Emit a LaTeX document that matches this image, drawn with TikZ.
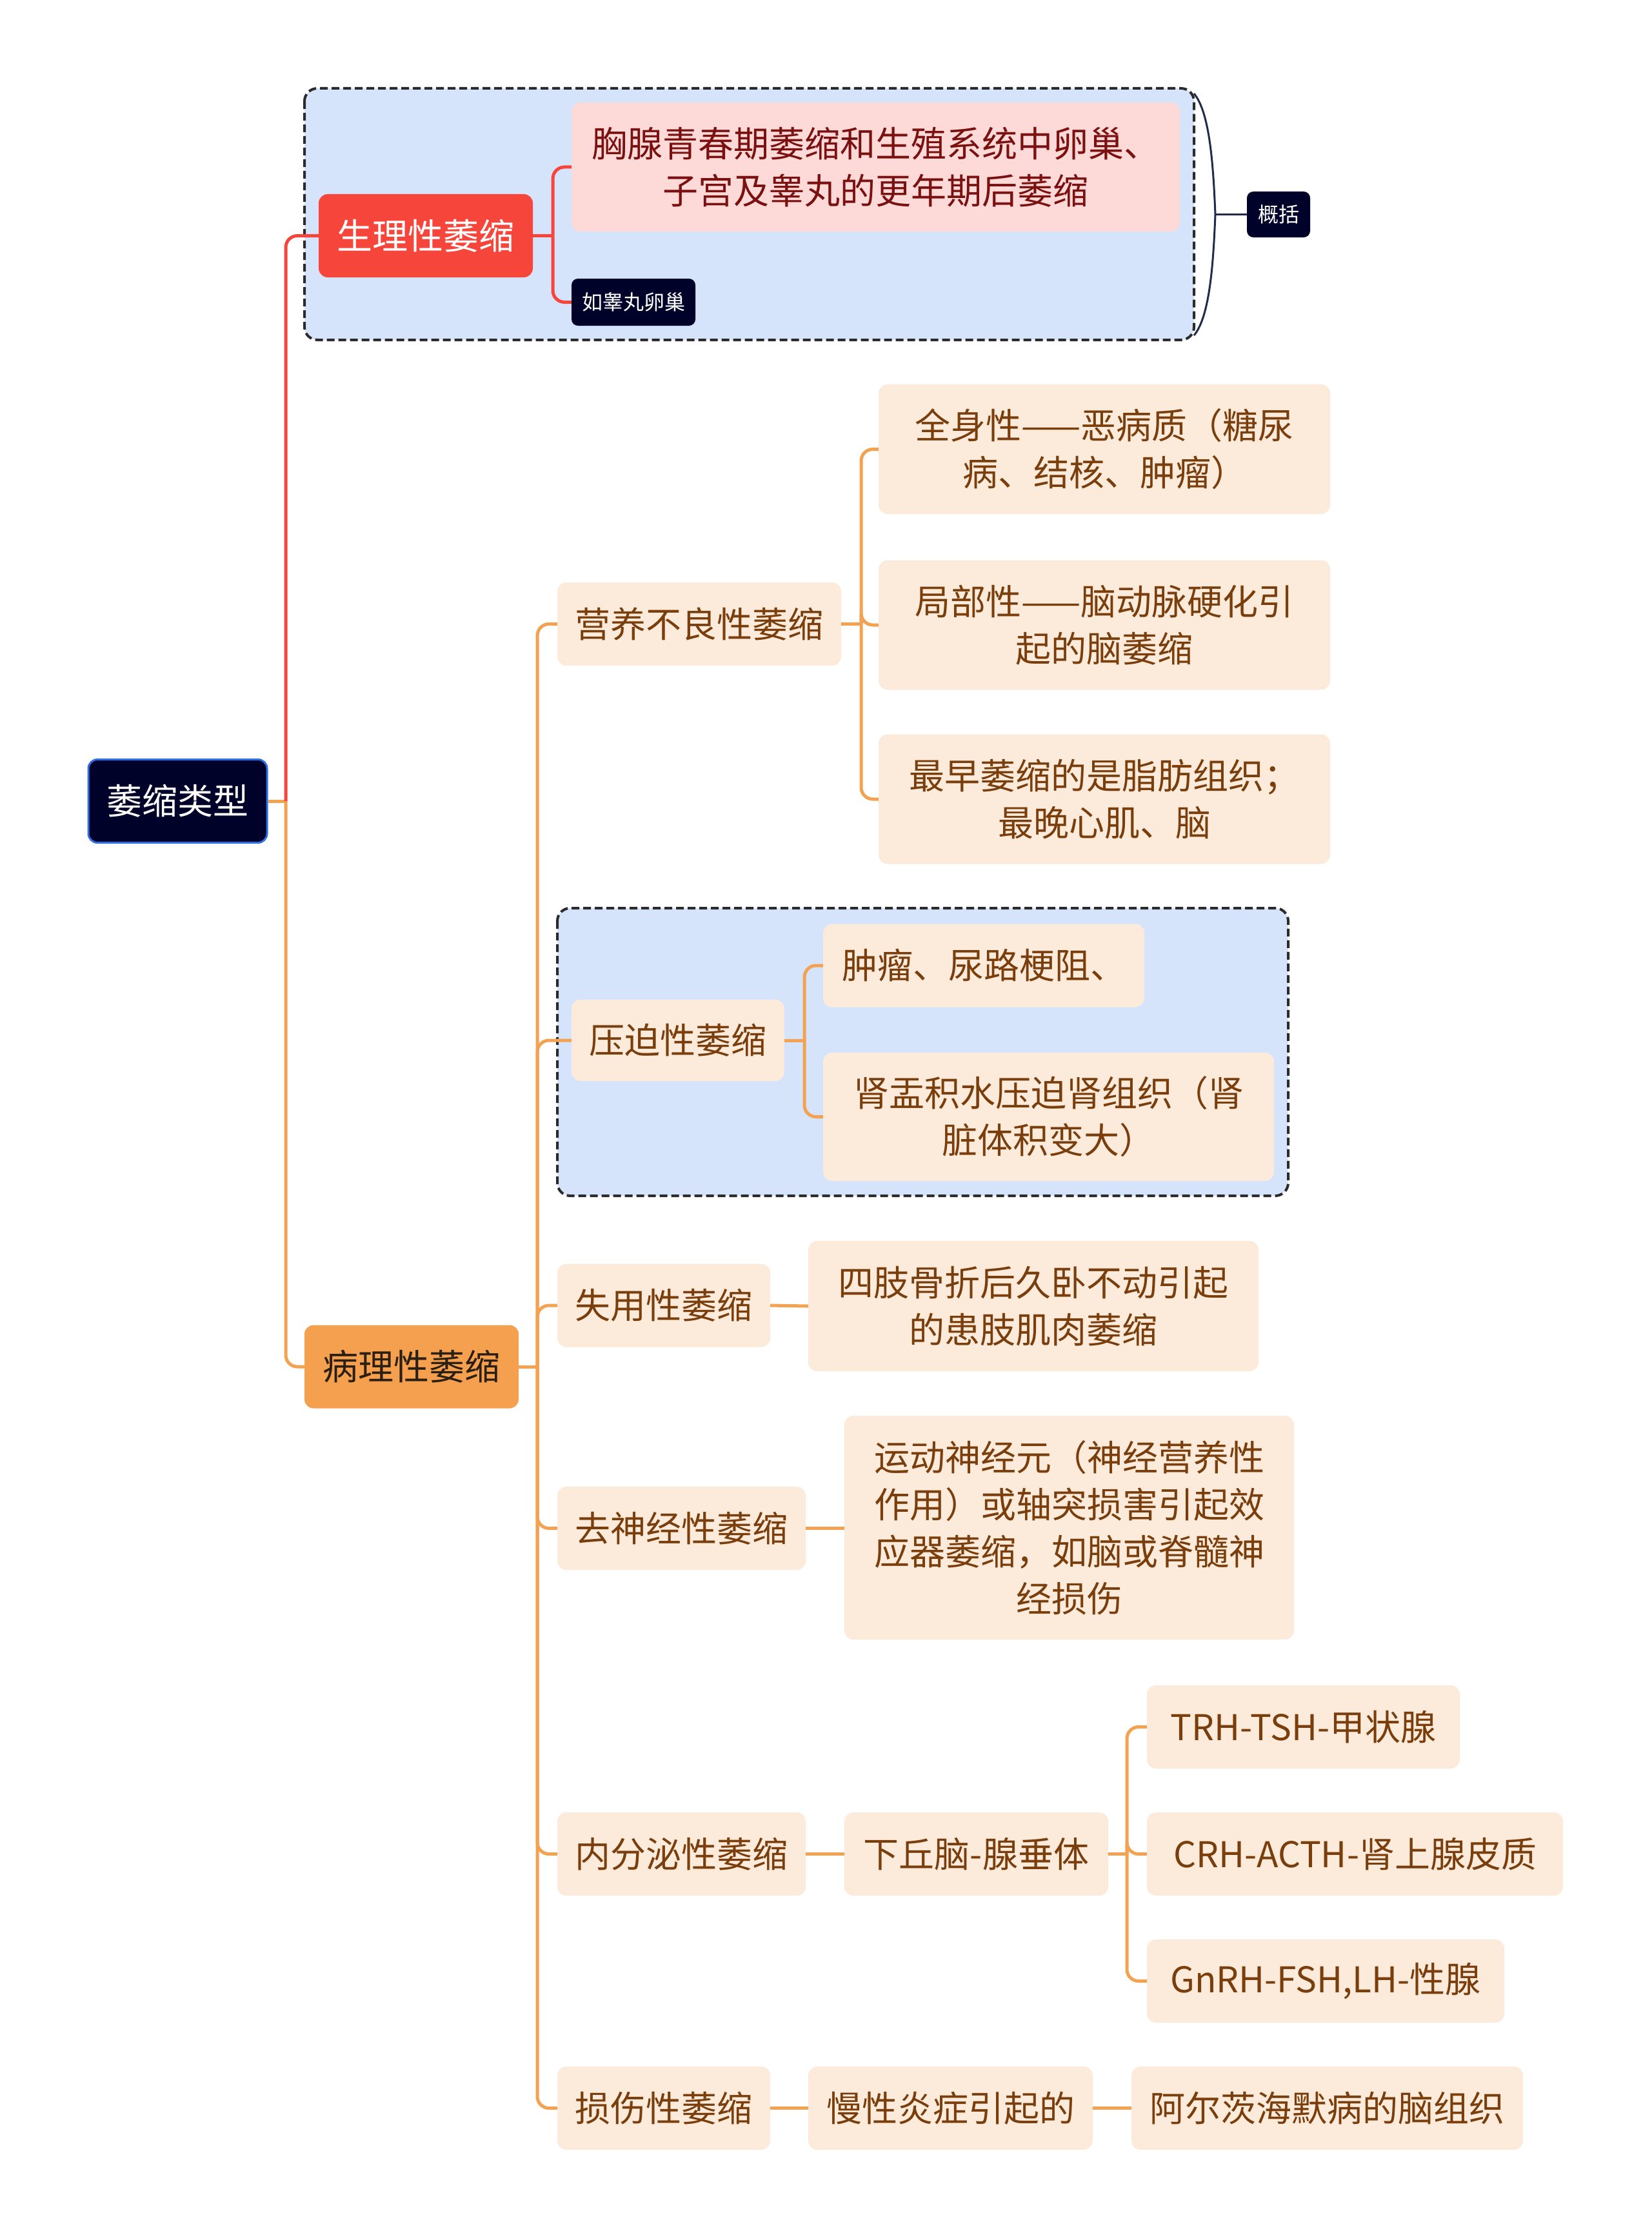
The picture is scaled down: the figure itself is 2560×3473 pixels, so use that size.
\documentclass[tikz,border=0pt]{standalone}
\usepackage{fontspec}
\setmainfont{Noto Sans CJK SC}
\usetikzlibrary{calc}
\definecolor{navy}{HTML}{000229}
\definecolor{rootborder}{HTML}{2F6FE0}
\definecolor{redc}{HTML}{F6463B}
\definecolor{orangec}{HTML}{F2A250}
\definecolor{orangefill}{HTML}{F5A04F}
\definecolor{beige}{HTML}{FCEBDB}
\definecolor{browntext}{HTML}{7A3D0C}
\definecolor{darktext}{HTML}{2A1F12}
\definecolor{pinkfill}{HTML}{FDD9D7}
\definecolor{pinktext}{HTML}{7A1010}
\definecolor{groupfill}{HTML}{D5E4FB}
\definecolor{groupline}{HTML}{2B2B2B}
\definecolor{bracec}{HTML}{1F2D4A}
\tikzset{
  box/.style={rounded corners=14pt, minimum height=129pt, align=center, inner sep=0pt,
    font=\fontsize{55}{73}\selectfont},
  leaf/.style={box, fill=beige, text=browntext},
  smallbox/.style={rounded corners=10pt, align=center, inner sep=0pt, fill=navy, text=white,
    font=\fontsize{32}{40}\selectfont},
  conn/.style={line width=5pt, draw=orangec, rounded corners=18pt},
  redconn/.style={line width=5pt, draw=redc, rounded corners=18pt},
  groupbox/.style={fill=groupfill, draw=groupline, line width=4pt, dash pattern=on 12pt off 6pt, rounded corners=20pt}
}
\begin{document}
\begin{tikzpicture}[x=1pt,y=-1pt]
\useasboundingbox (0,0) rectangle (2560,3473);
\fill[white] (0,0) rectangle (2560,3473);

% group backgrounds
\draw[groupbox] (472,137) rectangle (1851,527);
\draw[groupbox] (864,1408) rectangle (1997,1854);

% nodes
\node[box, fill=navy, draw=rootborder, line width=3pt, text=white, minimum width=277pt] (root) at (275.5,1242) {萎缩类型};

\node[box, fill=redc, text=white, minimum width=332pt] (phys) at (660,365.5) {生理性萎缩};
\node[box, fill=pinkfill, text=pinktext, minimum width=943pt, minimum height=200pt] (pink) at (1357.5,259) {胸腺青春期萎缩和生殖系统中卵巢、\\子宫及睾丸的更年期后萎缩};
\node[smallbox, minimum width=192pt, minimum height=73pt] (ovary) at (982,468.5) {如睾丸卵巢};
\node[smallbox, minimum width=98pt, minimum height=71pt] (gaikuo) at (1982,332.5) {概括};

\node[box, fill=orangefill, text=darktext, minimum width=332pt] (path) at (638,2119) {病理性萎缩};

\node[leaf, minimum width=440pt] (nutr) at (1084,967.5) {营养不良性萎缩};
\node[leaf, minimum width=700pt, minimum height=201pt] (n1) at (1712,696.5) {全身性——恶病质（糖尿\\病、结核、肿瘤）};
\node[leaf, minimum width=700pt, minimum height=201pt] (n2) at (1712,969) {局部性——脑动脉硬化引\\起的脑萎缩};
\node[leaf, minimum width=700pt, minimum height=201pt] (n3) at (1712,1239) {最早萎缩的是脂肪组织；\\最晚心肌、脑};

\node[leaf, minimum width=330pt, minimum height=126pt] (press) at (1051,1613) {压迫性萎缩};
\node[leaf, minimum width=498pt] (p1) at (1525,1497) {肿瘤、尿路梗阻、};
\node[leaf, minimum width=699pt, minimum height=199pt] (p2) at (1625.5,1731.5) {肾盂积水压迫肾组织（肾\\脏体积变大）};

\node[leaf, minimum width=330pt] (disuse) at (1029,2024) {失用性萎缩};
\node[leaf, minimum width=698pt, minimum height=202pt] (d1) at (1602,2025) {四肢骨折后久卧不动引起\\的患肢肌肉萎缩};

\node[leaf, minimum width=385pt] (denerv) at (1056.5,2369.5) {去神经性萎缩};
\node[leaf, minimum width=697pt, minimum height=347pt] (dn1) at (1657.5,2368.5) {运动神经元（神经营养性\\作用）或轴突损害引起效\\应器萎缩，如脑或脊髓神\\经损伤};

\node[leaf, minimum width=385pt] (endo) at (1056.5,2874.5) {内分泌性萎缩};
\node[leaf, minimum width=409pt] (hyp) at (1513.5,2874.5) {下丘脑-腺垂体};
\node[leaf, minimum width=485pt] (e1) at (2020.5,2677.5) {TRH-TSH-甲状腺};
\node[leaf, minimum width=645pt] (e2) at (2100.5,2874.5) {CRH-ACTH-肾上腺皮质};
\node[leaf, minimum width=554pt] (e3) at (2055,3071.5) {GnRH-FSH,LH-性腺};

\node[leaf, minimum width=330pt] (injury) at (1029,3268.5) {损伤性萎缩};
\node[leaf, minimum width=441pt] (inj1) at (1473.5,3268.5) {慢性炎症引起的};
\node[leaf, minimum width=607pt] (inj2) at (2057.5,3268.5) {阿尔茨海默病的脑组织};

% junction coordinates
\coordinate (t0) at (443,0);
\coordinate (t1) at (857,0);
\coordinate (t2) at (833,0);
\coordinate (tn) at (1335,0);
\coordinate (tp) at (1247,0);
\coordinate (te) at (1747,0);

% connectors: sharp T at junction, rounded turn at child
\draw[conn] (root.east) -- (root.east -| t0);
\draw[conn] (root.east -| t0) |- (path.west);
\draw[redconn] (root.east -| t0) |- (phys.west);

\draw[redconn] (phys.east) -- (phys.east -| t1);
\draw[redconn] (phys.east -| t1) |- (pink.west);
\draw[redconn] (phys.east -| t1) |- (ovary.west);

\draw[conn] (path.east) -- (path.east -| t2);
\foreach \c in {nutr,press,disuse,denerv,endo,injury}
  \draw[conn] (path.east -| t2) |- (\c.west);

\draw[conn] (nutr.east) -- (nutr.east -| tn);
\foreach \c in {n1,n2,n3}
  \draw[conn] (nutr.east -| tn) |- (\c.west);

\draw[conn] (press.east) -- (press.east -| tp);
\foreach \c in {p1,p2}
  \draw[conn] (press.east -| tp) |- (\c.west);

\draw[conn] (disuse.east) -- (d1.west);
\draw[conn] (denerv.east) -- (denerv.east -| dn1.west);
\draw[conn] (endo.east) -- (hyp.west);

\draw[conn] (hyp.east) -- (hyp.east -| te);
\foreach \c in {e1,e2,e3}
  \draw[conn] (hyp.east -| te) |- (\c.west);

\draw[conn] (injury.east) -- (inj1.west);
\draw[conn] (inj1.east) -- (inj2.west);

% summary brace
\coordinate (bt) at (1851,145);
\coordinate (bm) at (1884,332.5);
\coordinate (bb) at (1851,520);
\draw[bracec, line width=3pt] (bt) .. controls (1876,175) and (1881,260) .. (bm) .. controls (1881,405) and (1876,490) .. (bb);
\draw[bracec, line width=3pt] (bm) -- (gaikuo.west);
\end{tikzpicture}
\end{document}
